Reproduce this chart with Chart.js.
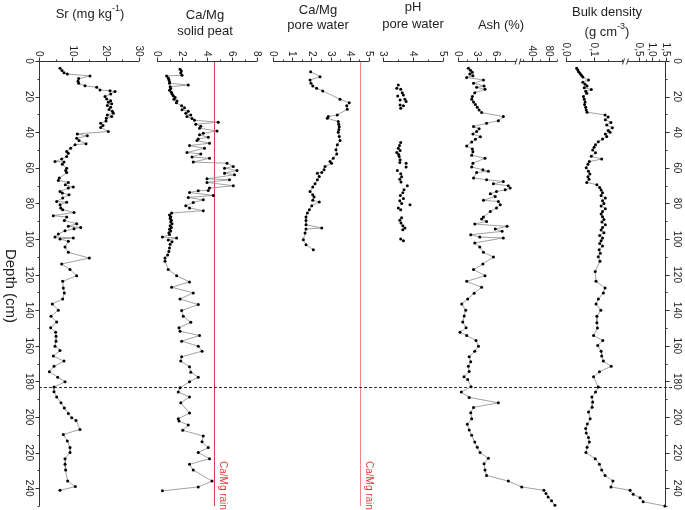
<!DOCTYPE html>
<html>
<head>
<meta charset="utf-8">
<script src="https://cdn.jsdelivr.net/npm/chart.js@4/dist/chart.umd.min.js"></script>
<style>
    body { margin: 0; background: #fff; }
    canvas { display: block; }
</style>
</head>
<body>
<canvas id="profiles" width="685" height="510"></canvas>
<script>
// Depth profiles (depth in cm, value)
const srDepth = [4.1, 5.4, 6.6, 7.3, 8.4, 9.9, 11.4, 12.5, 13.9, 14.8, 16.3, 16.7, 17.2, 18.5, 20.0, 21.3, 22.3, 23.2, 24.0, 25.0,
    26.0, 27.2, 28.3, 29.3, 30.3, 31.2, 32.2, 33.7, 35.0, 36.2, 37.3, 39.6, 41.0, 42.0, 43.4, 44.7, 46.5, 47.0, 49.0, 50.8,
    51.8, 53.7, 55.1, 56.5, 56.8, 58.0, 60.2, 61.5, 62.7, 65.8, 67.1, 68.2, 69.5, 70.8, 71.4, 73.3, 74.2, 75.1, 77.0, 78.9,
    79.4, 80.7, 82.6, 83.5, 85.1, 86.9, 87.6, 89.6, 91.4, 92.9, 93.5, 94.2, 95.4, 97.2, 98.9, 99.4, 100.0, 101.3, 104.5, 107.5,
    110.7, 114.0, 117.2, 120.6, 123.8, 127.5, 130.3, 133.7, 136.5, 140.0, 143.4, 146.6, 149.9, 152.4, 154.6, 157.4, 160.2, 162.6, 165.8, 168.6,
    171.5, 174.6, 177.6, 180.2, 183.2, 185.8, 188.8, 192.0, 195.0, 198.0, 200.4, 201.9, 207.0, 209.8, 213.5, 217.2, 220.0, 223.4, 226.6, 229.8,
    236.0, 239.1, 241.2];
const srValue = [6.3, 6.9, 7.5, 8.5, 15.3, 11.9, 11.7, 11.9, 13.8, 17.3, 18.3, 21.3, 22.8, 21.5, 19.8, 20.3, 21.5, 20.8, 21.8, 20.5,
    21.5, 21.0, 22.0, 22.3, 20.5, 21.8, 20.2, 20.1, 18.5, 19.2, 18.5, 20.8, 11.5, 14.5, 11.3, 12.0, 14.1, 10.8, 9.5, 8.3,
    8.8, 8.3, 6.8, 4.8, 7.5, 7.0, 8.3, 8.0, 8.3, 6.1, 5.8, 8.8, 7.9, 10.3, 8.8, 6.3, 7.0, 9.0, 7.1, 5.3,
    8.3, 6.3, 6.5, 7.1, 10.5, 4.3, 8.3, 7.6, 11.3, 8.8, 12.5, 10.5, 7.8, 5.8, 4.8, 10.3, 6.3, 8.8, 7.8, 8.8,
    15.1, 6.8, 9.3, 11.3, 7.1, 7.3, 7.6, 7.1, 4.0, 5.8, 3.6, 5.3, 3.5, 5.0, 5.1, 5.1, 4.8, 6.3, 4.3, 7.5,
    4.5, 3.1, 5.6, 7.8, 4.5, 4.5, 5.3, 6.6, 7.6, 8.8, 9.8, 11.1, 12.3, 7.3, 8.5, 9.3, 9.3, 7.8, 7.8, 8.0,
    8.6, 10.9, 6.3];

const solidDepth = [4.7, 5.6, 6.8, 8.0, 8.4, 9.5, 10.5, 11.7, 12.5, 13.5, 14.5, 15.5, 16.5, 17.5, 18.5, 19.5, 20.5, 21.5, 22.5, 23.5,
    25.2, 26.3, 27.4, 28.3, 29.3, 30.3, 31.2, 32.3, 33.3, 34.4, 35.5, 36.6, 37.8, 39.3, 40.6, 41.5, 42.8, 43.8, 44.7, 46.2,
    47.5, 49.0, 51.4, 52.2, 54.0, 54.6, 56.8, 57.4, 59.3, 60.2, 61.5, 63.0, 63.9, 66.2, 66.7, 68.2, 70.1, 71.4, 72.7, 72.9,
    73.9, 75.5, 76.7, 78.0, 79.5, 81.3, 82.6, 84.1, 85.4, 86.5, 87.5, 88.5, 89.5, 90.5, 91.5, 92.5, 93.5, 94.5, 95.5, 96.5,
    97.5, 98.9, 99.4, 100.5, 101.5, 103.0, 105.0, 107.0, 109.0, 110.7, 112.5, 117.2, 120.6, 124.1, 127.1, 130.3, 133.7, 136.8, 140.2, 143.4,
    146.8, 149.9, 151.8, 154.2, 157.4, 160.2, 163.0, 166.2, 168.6, 171.8, 174.8, 177.6, 180.2, 183.6, 186.0, 188.8, 192.0, 197.8, 201.0, 202.3,
    204.5, 207.5, 210.7, 213.9, 217.2, 220.0, 223.4, 226.6, 229.8, 236.0, 239.3, 241.5];
const solidValue = [1.84, 1.95, 1.9, 2.0, 0.77, 0.9, 0.95, 1.0, 1.0, 2.5, 1.05, 1.1, 1.0, 1.15, 1.2, 1.3, 1.45, 1.35, 1.6, 1.55,
    1.97, 2.2, 2.0, 2.5, 2.3, 2.7, 2.4, 2.8, 3.0, 4.9, 3.1, 3.5, 3.4, 4.8, 3.7, 3.4, 4.1, 3.3, 3.2, 4.2,
    2.6, 3.8, 2.4, 3.5, 2.8, 4.2, 2.9, 5.6, 6.1, 5.4, 6.4, 5.4, 6.2, 4.0, 5.8, 4.0, 6.1, 4.2, 4.1, 3.3,
    2.6, 4.5, 2.5, 3.7, 2.9, 2.3, 2.6, 3.7, 1.17, 1.0, 1.1, 1.05, 1.15, 1.1, 1.2, 1.05, 1.15, 1.0, 1.1, 0.95,
    1.0, 0.43, 1.57, 0.9, 1.2, 1.05, 1.0, 0.95, 0.85, 0.64, 0.64, 0.9, 1.57, 2.6, 1.17, 2.9, 1.84, 3.3, 1.97, 2.1,
    2.7, 1.76, 1.84, 3.4, 1.97, 3.3, 3.6, 1.97, 1.9, 2.6, 2.7, 3.3, 2.6, 1.84, 1.7, 2.6, 1.9, 2.6, 1.7, 1.76,
    2.5, 2.06, 3.7, 3.6, 4.1, 3.3, 4.2, 2.6, 2.9, 4.4, 3.3, 0.43];

const poreDepth = [6.0, 8.8, 10.7, 12.5, 14.0, 15.3, 16.8, 21.5, 23.4, 25.2, 27.1, 30.3, 31.2, 32.2, 34.0, 35.5, 37.0, 38.5, 40.0, 42.4,
    44.7, 47.1, 49.9, 52.2, 54.6, 56.5, 57.4, 59.3, 61.1, 62.6, 63.0, 64.9, 66.7, 69.0, 70.8, 73.3, 75.2, 76.4, 78.3, 79.2,
    81.3, 83.6, 85.4, 87.7, 89.6, 92.0, 93.8, 94.4, 96.6, 100.4, 103.2, 106.0];
const poreValue = [1.96, 2.45, 1.93, 1.98, 2.07, 2.27, 2.59, 3.49, 3.97, 3.84, 3.87, 3.35, 2.88, 2.83, 3.4, 3.42, 3.45, 3.43, 3.4, 3.45,
    3.49, 3.35, 3.28, 3.32, 3.14, 2.97, 3.05, 2.71, 2.66, 2.54, 2.31, 2.41, 2.31, 2.19, 2.07, 1.93, 2.07, 2.14, 2.07, 2.41,
    2.02, 1.89, 1.79, 1.72, 1.72, 1.72, 2.54, 1.72, 1.67, 1.58, 1.72, 2.1];

const phDepth = [13.5, 15.3, 15.9, 17.8, 19.1, 19.6, 21.5, 21.9, 22.8, 24.7, 25.2, 26.5, 45.8, 47.5, 49.0, 50.3, 51.4, 52.5, 53.7, 55.5,
    57.0, 57.4, 59.6, 61.5, 63.4, 65.0, 66.5, 68.0, 70.1, 72.4, 74.0, 75.5, 77.2, 78.5, 80.0, 80.8, 82.6, 83.6, 88.0, 89.5,
    91.0, 92.5, 93.8, 94.8, 100.0, 101.0];
const phValue = [3.51, 3.46, 3.59, 3.64, 3.68, 3.49, 3.73, 3.57, 3.77, 3.57, 3.68, 3.59, 3.59, 3.55, 3.51, 3.57, 3.46, 3.52, 3.54, 3.57,
    3.56, 3.77, 3.77, 3.48, 3.59, 3.62, 3.56, 3.6, 3.81, 3.7, 3.66, 3.58, 3.68, 3.56, 3.62, 3.9, 3.51, 3.59, 3.62, 3.56,
    3.6, 3.66, 3.73, 3.66, 3.59, 3.68];

const ashDepth = [4.1, 5.2, 6.3, 7.3, 8.3, 9.2, 10.7, 12.5, 14.0, 14.8, 15.9, 17.8, 20.0, 21.5, 23.0, 24.5, 26.0, 27.5, 29.0, 31.2,
    33.5, 35.0, 36.8, 38.0, 39.6, 41.0, 42.5, 44.0, 45.5, 47.7, 49.5, 51.0, 53.0, 54.6, 57.4, 59.6, 61.1, 62.0, 62.6, 65.8,
    66.7, 67.7, 69.0, 70.1, 71.4, 72.4, 73.3, 74.6, 76.1, 78.3, 78.9, 80.8, 82.6, 84.5, 87.7, 88.8, 90.1, 91.6, 92.9, 94.4,
    95.7, 97.6, 98.9, 99.4, 102.2, 104.5, 107.5, 110.1, 114.0, 117.2, 120.6, 123.8, 127.1, 130.5, 133.7, 136.5, 140.0, 143.3, 146.6, 149.9,
    152.4, 154.2, 157.0, 160.2, 163.0, 166.2, 169.0, 171.5, 174.5, 177.4, 178.9, 183.0, 186.0, 189.0, 192.0, 194.6, 197.6, 201.0, 204.1, 207.3,
    210.3, 214.1, 217.0, 220.0, 223.2, 226.2, 229.8, 232.8, 236.0, 239.3, 241.2, 243.0, 244.9, 247.1, 249.6];
const ashValue = [1.67, 2.0, 2.3, 1.9, 2.4, 1.4, 4.1, 2.5, 4.2, 3.0, 4.35, 2.7, 2.3, 2.2, 2.5, 2.8, 3.1, 3.4, 3.8, 7.3,
    6.5, 4.6, 2.5, 3.4, 3.0, 2.4, 3.6, 2.8, 2.2, 1.4, 2.3, 2.4, 2.2, 4.35, 2.4, 2.2, 4.0, 4.9, 3.0, 2.5,
    4.6, 7.3, 5.7, 8.1, 8.4, 7.6, 6.2, 5.2, 6.0, 4.1, 6.5, 6.8, 6.2, 5.2, 4.1, 3.8, 4.6, 2.7, 7.9, 6.0,
    7.1, 2.05, 3.5, 7.3, 2.7, 3.5, 4.1, 5.7, 4.0, 2.5, 4.35, 1.4, 3.8, 2.6, 1.56, 0.6, 1.24, 1.0, 0.76, 1.3,
    0.32, 1.4, 2.9, 3.3, 2.7, 1.8, 2.05, 1.67, 1.8, 0.97, 1.56, 2.1, 0.53, 1.8, 6.5, 2.5, 2.05, 2.2, 1.5, 1.8,
    2.2, 2.7, 3.1, 3.55, 4.9, 4.2, 4.35, 4.6, 8.1, 16.4, 69, 74, 79, 87, 95];

const bdDepth = [4.1, 5.0, 6.0, 7.0, 8.0, 9.0, 10.7, 12.0, 13.0, 14.0, 15.0, 16.0, 17.0, 18.1, 20.0, 21.5, 23.0, 24.5, 26.0, 27.5,
    28.8, 30.3, 31.5, 33.0, 34.5, 36.0, 37.5, 39.0, 40.0, 41.0, 42.4, 43.8, 45.3, 47.0, 48.5, 50.0, 51.5, 53.5, 55.1, 56.5,
    58.0, 60.0, 62.0, 63.5, 65.0, 66.5, 68.2, 69.5, 71.0, 72.5, 74.0, 75.5, 77.0, 78.5, 80.0, 81.5, 83.0, 84.5, 86.0, 87.5,
    89.0, 90.5, 92.0, 93.5, 95.0, 96.5, 98.0, 99.5, 101.0, 102.5, 104.0, 106.0, 108.0, 110.0, 112.5, 118.2, 123.8, 127.5, 130.3, 133.7,
    136.5, 140.0, 143.4, 147.0, 150.0, 154.2, 157.0, 159.8, 163.0, 165.8, 168.6, 171.5, 174.6, 177.4, 183.2, 186.0, 188.8, 191.6, 194.5, 197.2,
    201.0, 204.0, 206.5, 209.0, 211.5, 214.1, 217.0, 220.0, 223.4, 226.6, 229.8, 232.8, 236.0, 239.3, 241.2, 243.4, 245.3, 247.6, 250.0];
const bdValue = [0.038, 0.042, 0.045, 0.05, 0.055, 0.06, 0.08, 0.06, 0.068, 0.075, 0.065, 0.09, 0.07, 0.074, 0.062, 0.065, 0.068, 0.066, 0.07, 0.072,
    0.075, 0.139, 0.15, 0.14, 0.16, 0.145, 0.165, 0.15, 0.157, 0.14, 0.145, 0.13, 0.115, 0.105, 0.1, 0.095, 0.105, 0.09, 0.127, 0.083,
    0.078, 0.072, 0.08, 0.085, 0.078, 0.082, 0.074, 0.11, 0.12, 0.125, 0.13, 0.125, 0.14, 0.13, 0.135, 0.125, 0.14, 0.13, 0.125, 0.13,
    0.135, 0.128, 0.14, 0.13, 0.125, 0.135, 0.12, 0.13, 0.125, 0.12, 0.13, 0.118, 0.122, 0.115, 0.121, 0.104, 0.107, 0.139, 0.133, 0.115,
    0.107, 0.124, 0.11, 0.11, 0.112, 0.098, 0.131, 0.113, 0.125, 0.127, 0.133, 0.161, 0.119, 0.098, 0.115, 0.105, 0.092, 0.095, 0.093, 0.08,
    0.086, 0.076, 0.07, 0.072, 0.08, 0.083, 0.075, 0.071, 0.104, 0.119, 0.127, 0.139, 0.167, 0.16, 0.30, 0.37, 0.54, 0.66, 1.46];

// Reference lines
const caMgRain = 4.55;
const markerDepth = 183;

// Axis ticks and labels
const depthTicks = [0, 20, 40, 60, 80, 100, 120, 140, 160, 180, 200, 220, 240];
const depthMinor = [10, 30, 50, 70, 90, 110, 130, 150, 170, 190, 210, 230, 250];
const srTicks = [0, 10, 20, 30];
const srMinor = [5, 15, 25];
const solidTicks = [0, 2, 4, 6, 8];
const solidMinor = [1, 3, 5, 7];
const poreTicks = [0, 1, 2, 3, 4, 5];
const poreMinor = [0.5, 1.5, 2.5, 3.5, 4.5];
const phTicks = [3, 4, 5];
const phMinor = [3.5, 4.5];
const ashTicks = [0, 3, 6, 40, 80];
const ashMinor = [1.5, 4.5, 7.5, 20, 60, 100];
const bdTicks = [0, 0.1, 0.5, 1.0, 1.5];
const bdTickLabels = ['0,0', '0,1', '0,5', '1,0', '1,5'];
const bdMinor = [0.05, 0.15, 0.2, 0.75, 1.25];

// Broken axes: [value, fraction of axis width]
const axisBreaks = {
    xAsh: [[0, 0], [9.5, 0.596], [10, 0.616], [100, 1]],
    xBd: [[0, 0], [0.21, 0.59], [0.21, 0.60], [0.5, 0.73], [1.0, 0.86], [1.5, 1]]
};
const breakAt = { xAsh: 0.606, xBd: 0.595 };

class BrokenScale extends Chart.LinearScale {
    getPixelForValue(value) {
        const knots = axisBreaks[this.id];
        let f = knots[knots.length - 1][1];
        if (value <= knots[0][0]) {
            f = knots[0][1];
        } else {
            for (let i = 0; i < knots.length - 1; i++) {
                const a = knots[i], b = knots[i + 1];
                if (b[0] > a[0] && value <= b[0]) {
                    f = a[1] + (value - a[0]) / (b[0] - a[0]) * (b[1] - a[1]);
                    break;
                }
            }
        }
        return this.left + f * this.width;
    }
}
BrokenScale.id = 'broken';
BrokenScale.defaults = Chart.LinearScale.defaults;
Chart.register(BrokenScale);

// panels left to right, gaps are empty spacer axes
const panels = [
    { id: 'xSr', width: 100, type: 'linear', min: 0, max: 30, ticks: srTicks, minor: srMinor },
    { width: 18 },
    { id: 'xSolid', width: 100, type: 'linear', min: 0, max: 8, ticks: solidTicks, minor: solidMinor },
    { width: 16 },
    { id: 'xPore', width: 96, type: 'linear', min: 0, max: 5, ticks: poreTicks, minor: poreMinor },
    { width: 14 },
    { id: 'xPh', width: 60, type: 'linear', min: 3, max: 5, ticks: phTicks, minor: phMinor },
    { width: 15 },
    { id: 'xAsh', width: 99, type: 'broken', min: 0, max: 100, ticks: ashTicks, minor: ashMinor },
    { width: 9 },
    { id: 'xBd', width: 100, type: 'broken', min: 0, max: 1.5, ticks: bdTicks, minor: bdMinor, labels: bdTickLabels }
];

const scales = {};
panels.forEach((p, i) => {
    const id = p.id || 'gap' + i;
    scales[id] = {
        type: p.type || 'linear',
        position: 'top',
        stack: 'panels',
        stackWeight: p.width,
        weight: panels.length - i,
        min: p.min !== undefined ? p.min : 0,
        max: p.max !== undefined ? p.max : 1,
        grid: { display: false },
        border: { display: false },
        ticks: { display: false },
        afterFit: s => { s.height = 0; }
    };
});
['y', 'y2'].forEach(id => {
    scales[id] = {
        type: 'linear',
        position: id === 'y' ? 'left' : 'right',
        reverse: true,
        min: 0,
        max: 250,
        grid: { display: false },
        border: { display: false },
        ticks: { display: false },
        afterFit: s => { s.width = 0; }
    };
});

function series(xAxisID, depth, values, showLine) {
    return {
        xAxisID: xAxisID,
        yAxisID: 'y',
        data: depth.map((d, i) => ({ x: values[i], y: d })),
        showLine: showLine,
        borderColor: '#8a8a8a',
        borderWidth: 0.8,
        pointRadius: 1.5,
        pointBackgroundColor: '#000',
        pointBorderWidth: 0,
        clip: false
    };
}

const FONT = '"Liberation Sans", Arial, sans-serif';
const INK = '#1e1e1e';

function rotText(ctx, text, x, y, align) {
    ctx.save();
    ctx.translate(x, y);
    ctx.rotate(Math.PI / 2);
    ctx.textAlign = align;
    ctx.textBaseline = 'middle';
    ctx.fillText(text, 0, 0);
    ctx.restore();
}

// text with an optional superscript part: parts = [[text, isSup], ...]
function richText(ctx, parts, cx, cy) {
    const big = '13px ' + FONT, small = '9px ' + FONT;
    let total = 0;
    parts.forEach(([t, sup]) => { ctx.font = sup ? small : big; total += ctx.measureText(t).width; });
    let x = cx - total / 2;
    ctx.textAlign = 'left';
    ctx.textBaseline = 'middle';
    parts.forEach(([t, sup]) => {
        ctx.font = sup ? small : big;
        ctx.fillText(t, x, sup ? cy - 5 : cy);
        x += ctx.measureText(t).width;
    });
}

const profileDecor = {
    id: 'profileDecor',
    beforeDatasetsDraw(chart) {
        const ctx = chart.ctx;
        const area = chart.chartArea;
        const yS = chart.scales.y;
        ctx.save();
        // Ca/Mg of rain
        [['xSolid', '#e23b3b'], ['xPore', '#ef8585']].forEach(([id, col]) => {
            const x = Math.round(chart.scales[id].getPixelForValue(caMgRain)) + 0.5;
            ctx.strokeStyle = col;
            ctx.lineWidth = 1;
            ctx.beginPath();
            ctx.moveTo(x, area.top);
            ctx.lineTo(x, area.bottom);
            ctx.stroke();
            ctx.fillStyle = '#e23b3b';
            ctx.font = '10px ' + FONT;
            rotText(ctx, 'Ca/Mg rain', x + 8, 461, 'left');
        });
        // dashed marker line
        const yd = Math.round(yS.getPixelForValue(markerDepth)) + 0.5;
        ctx.strokeStyle = '#333';
        ctx.setLineDash([3, 2]);
        ctx.beginPath();
        ctx.moveTo(area.left, yd);
        ctx.lineTo(area.right + 6, yd);
        ctx.stroke();
        ctx.restore();
    },
    afterDatasetsDraw(chart) {
        const ctx = chart.ctx;
        const area = chart.chartArea;
        const yS = chart.scales.y;
        ctx.save();
        ctx.strokeStyle = '#333';
        ctx.fillStyle = INK;
        ctx.lineWidth = 1;

        // depth axes
        const xl = area.left + 0.5, xr = area.right - 0.5;
        ctx.beginPath();
        ctx.moveTo(xl, area.top); ctx.lineTo(xl, area.bottom);
        ctx.moveTo(xr, area.top); ctx.lineTo(xr, area.bottom);
        depthTicks.forEach(d => {
            const y = Math.round(yS.getPixelForValue(d)) + 0.5;
            ctx.moveTo(xl - 4, y); ctx.lineTo(xl, y);
            ctx.moveTo(xr, y); ctx.lineTo(xr + 4, y);
        });
        depthMinor.forEach(d => {
            const y = Math.round(yS.getPixelForValue(d)) + 0.5;
            ctx.moveTo(xl - 2, y); ctx.lineTo(xl, y);
            ctx.moveTo(xr, y); ctx.lineTo(xr + 2, y);
        });
        ctx.stroke();
        ctx.font = '10px ' + FONT;
        depthTicks.forEach(d => {
            const y = yS.getPixelForValue(d);
            rotText(ctx, String(d), xl - 11, y, 'center');
            rotText(ctx, String(d), xr + 11, y, 'center');
        });

        // panel x axes on top
        const yt = area.top + 0.5;
        panels.filter(p => p.id).forEach(p => {
            const s = chart.scales[p.id];
            ctx.beginPath();
            ctx.moveTo(s.left, yt); ctx.lineTo(s.right, yt);
            p.ticks.forEach(v => {
                const x = Math.round(s.getPixelForValue(v)) + 0.5;
                ctx.moveTo(x, yt); ctx.lineTo(x, yt - 4);
            });
            p.minor.forEach(v => {
                const x = Math.round(s.getPixelForValue(v)) + 0.5;
                ctx.moveTo(x, yt); ctx.lineTo(x, yt - 2);
            });
            ctx.stroke();
            if (breakAt[p.id] !== undefined) {
                const bx = s.left + breakAt[p.id] * s.width;
                ctx.fillStyle = '#fff';
                ctx.fillRect(bx - 2, yt - 1, 4, 2);
                ctx.beginPath();
                ctx.moveTo(bx - 3, yt + 3); ctx.lineTo(bx - 1, yt - 3);
                ctx.moveTo(bx + 1, yt + 3); ctx.lineTo(bx + 3, yt - 3);
                ctx.stroke();
                ctx.fillStyle = INK;
            }
            ctx.font = '10px ' + FONT;
            p.ticks.forEach((v, i) => {
                const label = p.labels ? p.labels[i] : String(v);
                rotText(ctx, label, s.getPixelForValue(v), yt - 5, 'right');
            });
        });

        // titles
        ctx.fillStyle = INK;
        richText(ctx, [['Sr (mg kg', false], ['-1', true], [')', false]], 90, 14);
        richText(ctx, [['Ca/Mg', false]], 205, 15);
        richText(ctx, [['solid peat', false]], 205, 31);
        richText(ctx, [['Ca/Mg', false]], 318, 10);
        richText(ctx, [['pore water', false]], 318, 25);
        richText(ctx, [['pH', false]], 413, 7);
        richText(ctx, [['pore water', false]], 413, 24);
        richText(ctx, [['Ash (%)', false]], 501, 25);
        richText(ctx, [['Bulk density', false]], 607, 12);
        richText(ctx, [['(g cm', false], ['-3', true], [')', false]], 607, 32);
        ctx.font = '15px ' + FONT;
        rotText(ctx, 'Depth (cm)', 10, 286, 'center');
        ctx.restore();
    }
};

new Chart(document.getElementById('profiles'), {
    type: 'scatter',
    data: {
        datasets: [
            series('xSr', srDepth, srValue, true),
            series('xSolid', solidDepth, solidValue, true),
            series('xPore', poreDepth, poreValue, true),
            series('xPh', phDepth, phValue, false),
            series('xAsh', ashDepth, ashValue, true),
            series('xBd', bdDepth, bdValue, true)
        ]
    },
    options: {
        responsive: false,
        animation: false,
        events: [],
        layout: { padding: { top: 61, left: 39, right: 19, bottom: 3 } },
        scales: scales,
        plugins: { legend: { display: false }, tooltip: { enabled: false } }
    },
    plugins: [profileDecor]
});
</script>
</body>
</html>
